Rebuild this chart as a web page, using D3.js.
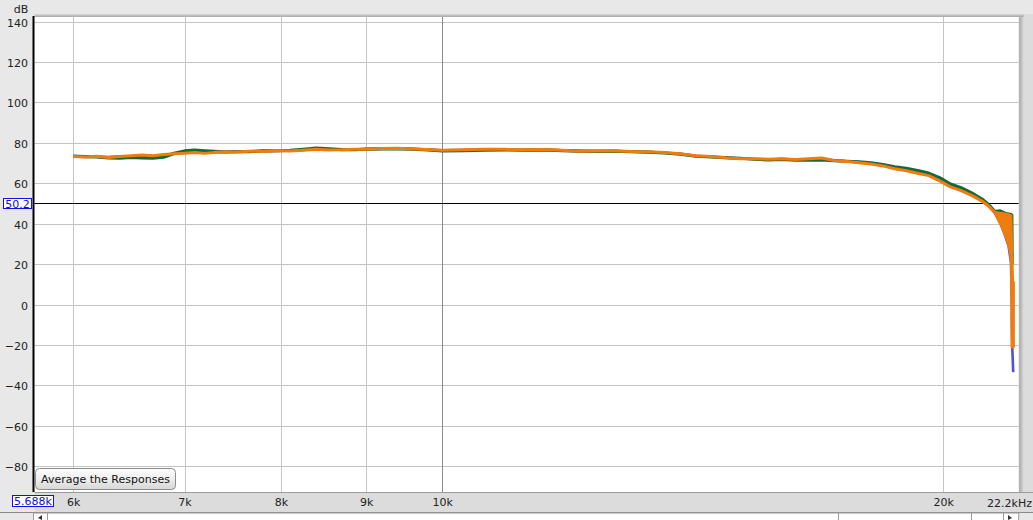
<!DOCTYPE html>
<html>
<head>
<meta charset="utf-8">
<script src="https://cdn.jsdelivr.net/npm/d3@7"></script>
<style>
  html, body { margin: 0; padding: 0; background: #e8e8e8; }
  svg { display: block; font-family: "DejaVu Sans", sans-serif; }
</style>
</head>
<body>
<svg id="chart" width="1033" height="520"></svg>
<script>
// ---------- data ----------
const yTicks = [140, 120, 100, 80, 60, 40, 20, 0, -20, -40, -60, -80];
const xTicks = [6000, 7000, 8000, 9000, 10000, 20000];
const xTickLabels = ["6k", "7k", "8k", "9k", "10k", "20k"];
const xStartLabel = "5.688k";
const xEndLabel = "22.2kHz";
const yUnitLabel = "dB";
const markerValue = 50.2;
const buttonLabel = "Average the Responses";

const freq = [6000, 6100, 6200, 6300, 6400, 6500, 6600, 6700, 6800, 6900,
  7000, 7100, 7200, 7300, 7400, 7500, 7650, 7800, 7950, 8100,
  8250, 8400, 8550, 8700, 8850, 9000, 9200, 9400, 9600, 9800,
  10000, 10300, 10600, 10900, 11200, 11500, 11800, 12100, 12400, 12700,
  13000, 13300, 13600, 13900, 14200, 14500, 14800, 15100, 15400, 15700,
  16000, 16300, 16600, 16900, 17200, 17500, 17800, 18100, 18400, 18700,
  19000, 19300, 19600, 19900, 20200, 20500, 20800, 21100, 21300, 21480,
  21640, 21790, 21890, 21963, 21990, 22000, 22033];

const orange = [73.3, 73.0, 73.4, 72.8, 73.2, 73.6, 74.0, 73.6, 74.2, 74.6,
  74.9, 75.2, 74.8, 75.3, 75.6, 75.4, 75.9, 75.7, 76.2, 76.0,
  76.4, 76.8, 76.5, 76.6, 76.9, 76.8, 77.2, 77.3, 77.0, 76.7,
  76.4, 76.6, 76.9, 76.8, 76.6, 76.7, 76.4, 75.9, 76.0, 76.0,
  75.7, 75.6, 75.2, 74.6, 73.6, 73.2, 72.6, 72.2, 72.1, 71.9,
  72.2, 71.8, 72.1, 72.5, 71.3, 70.8, 70.2, 69.5, 68.6, 67.2,
  66.2, 65.0, 63.8, 61.2, 58.2, 56.4, 54.0, 51.2, 48.6, 45.6,
  45.2, 44.8, 44.4, 44.0, 24.0, -21.0, -21.0];

const green = [73.5, 73.2, 73.0, 72.6, 72.4, 72.8, 72.6, 72.4, 72.9, 74.8,
  76.0, 76.4, 76.1, 75.8, 75.5, 75.6, 75.7, 76.0, 76.1, 76.3,
  76.8, 77.4, 77.1, 76.7, 76.6, 76.9, 77.0, 77.2, 76.9, 76.5,
  76.0, 76.2, 76.4, 76.5, 76.4, 76.5, 76.2, 75.9, 75.8, 75.9,
  75.6, 75.4, 75.0, 74.4, 73.4, 73.0, 72.7, 72.4, 71.9, 71.6,
  71.8, 71.5, 71.5, 71.6, 71.2, 70.9, 70.6, 70.1, 69.2, 68.2,
  67.4, 66.3, 65.0, 62.8, 59.6, 57.8, 55.2, 52.2, 49.4, 46.0,
  46.3, 45.2, 44.8, 44.5, 44.2, 20.0, 20.0];

const blue = [73.2, 73.3, 73.1, 73.0, 73.3, 73.4, 73.8, 73.3, 73.9, 74.7,
  75.3, 75.6, 75.2, 75.4, 75.5, 75.6, 75.8, 75.9, 76.0, 76.2,
  76.5, 77.0, 76.7, 76.6, 76.7, 76.9, 77.1, 77.1, 76.9, 76.6,
  76.3, 76.4, 76.7, 76.6, 76.5, 76.6, 76.3, 75.9, 75.9, 75.9,
  75.6, 75.5, 75.1, 74.5, 73.5, 73.1, 72.6, 72.3, 72.0, 71.8,
  72.0, 71.7, 71.9, 72.1, 71.3, 70.9, 70.4, 69.8, 68.8, 67.6,
  66.6, 65.5, 64.2, 61.8, 58.8, 56.9, 54.5, 51.6, 48.8, 45.2,
  40.5, 34.0, 29.0, 21.0, 0.0, -20.0, -33.5];

// spread (fast oscillation) of the orange trace near the top end
const tailFreq = [21480, 21560, 21640, 21720, 21790, 21850, 21890, 21930, 21960, 21985, 22010, 22040, 22060];
const tailHigh = [45.6, 45.4, 45.2, 45.0, 44.8, 44.6, 44.4, 44.2, 44.0, 24.0, 22.0, 11.0, 11.0];
const tailLow  = [45.0, 42.0, 39.4, 36.5, 33.6, 30.6, 28.6, 25.0, 20.5, -21.0, -21.0, -21.0, -21.0];

// ---------- layout ----------
const svg = d3.select("#chart");
const W = 1033, H = 520;
const plot = { left: 34.5, right: 1018.7, top: 17, bottom: 492 };

const x = d3.scaleLog().domain([5688, 22200]).range([plot.left, plot.right]);
const y = d3.scaleLinear().domain([-92.8, 142.3]).range([plot.bottom, plot.top]);

const defs = svg.append("defs");
const gBtn = defs.append("linearGradient").attr("id", "btnGrad").attr("x1", 0).attr("x2", 0).attr("y1", 0).attr("y2", 1);
gBtn.append("stop").attr("offset", "0%").attr("stop-color", "#fdfdfd");
gBtn.append("stop").attr("offset", "55%").attr("stop-color", "#ececec");
gBtn.append("stop").attr("offset", "100%").attr("stop-color", "#d6d6d6");
const gRight = defs.append("linearGradient").attr("id", "rightGrad").attr("x1", 0).attr("x2", 1).attr("y1", 0).attr("y2", 0);
gRight.append("stop").attr("offset", "0%").attr("stop-color", "#a8a8a8");
gRight.append("stop").attr("offset", "100%").attr("stop-color", "#d4d4d4");
const gTop = defs.append("linearGradient").attr("id", "topGrad").attr("x1", 0).attr("x2", 0).attr("y1", 0).attr("y2", 1);
gTop.append("stop").attr("offset", "0%").attr("stop-color", "#d8d8d8");
gTop.append("stop").attr("offset", "100%").attr("stop-color", "#a8a8a8");

svg.append("rect").attr("width", W).attr("height", H).attr("fill", "#e8e8e8");

// right shaded edge and top shaded edge
svg.append("rect").attr("x", plot.right).attr("y", plot.top - 3).attr("width", 5).attr("height", plot.bottom - plot.top + 3).attr("fill", "url(#rightGrad)");
svg.append("rect").attr("x", plot.right + 5).attr("y", plot.top - 3).attr("width", W - plot.right - 5).attr("height", plot.bottom - plot.top + 3).attr("fill", "#dcdcdc");
svg.append("rect").attr("x", plot.left).attr("y", plot.top - 3).attr("width", plot.right - plot.left + 5).attr("height", 3).attr("fill", "url(#topGrad)");

// plot area
svg.append("rect").attr("x", plot.left).attr("y", plot.top)
  .attr("width", plot.right - plot.left).attr("height", plot.bottom - plot.top)
  .attr("fill", "#ffffff");

// bottom axis strip
svg.append("rect").attr("x", plot.left).attr("y", plot.bottom).attr("width", W - plot.left).attr("height", 20).attr("fill", "#dcdcdc");
svg.append("line").attr("x1", plot.left).attr("x2", W).attr("y1", plot.bottom + 0.5).attr("y2", plot.bottom + 0.5).attr("stroke", "#9a9a9a");
svg.append("line").attr("x1", 0).attr("x2", W).attr("y1", 512.5).attr("y2", 512.5).attr("stroke", "#8a8a8a");

// scrollbar
svg.append("rect").attr("x", 33.5).attr("y", 513).attr("width", plot.right - 33.5).attr("height", 8).attr("fill", "#ffffff").attr("stroke", "#9a9a9a");
[47.5, 838.5, 971.5, 1003.5].forEach(d => {
  svg.append("line").attr("x1", d).attr("x2", d).attr("y1", 513).attr("y2", 520).attr("stroke", "#9a9a9a");
});
svg.append("path").attr("d", "M38,518 L42,515 L42,520 Z").attr("fill", "#333");
svg.append("path").attr("d", "M1012,518 L1008,515 L1008,520 Z").attr("fill", "#333");

// grid
const grid = svg.append("g");
grid.selectAll("line.h").data(yTicks).join("line")
  .attr("x1", plot.left).attr("x2", plot.right)
  .attr("y1", d => Math.round(y(d)) + 0.5).attr("y2", d => Math.round(y(d)) + 0.5)
  .attr("stroke", "#c4c4c4").attr("stroke-width", 1);
grid.selectAll("line.v").data(xTicks).join("line")
  .attr("x1", d => Math.round(x(d)) + 0.5).attr("x2", d => Math.round(x(d)) + 0.5)
  .attr("y1", plot.top).attr("y2", plot.bottom)
  .attr("stroke", d => d === 10000 ? "#8a8a8a" : "#c4c4c4").attr("stroke-width", 1);

// marker line
svg.append("line").attr("x1", plot.left).attr("x2", plot.right)
  .attr("y1", Math.round(y(markerValue)) + 0.5).attr("y2", Math.round(y(markerValue)) + 0.5)
  .attr("stroke", "#000").attr("stroke-width", 1);

// curves
const line = d3.line().x((d, i) => x(freq[i])).y(d => y(d));
const clip = defs.append("clipPath").attr("id", "plotClip");
clip.append("rect").attr("x", plot.left).attr("y", plot.top).attr("width", plot.right - plot.left).attr("height", plot.bottom - plot.top);
const curves = svg.append("g").attr("clip-path", "url(#plotClip)");

curves.append("path").datum(blue).attr("d", line).attr("fill", "none")
  .attr("stroke", "#5050d8").attr("stroke-width", 2.6).attr("stroke-linejoin", "round");
curves.append("path").datum(green).attr("d", line).attr("fill", "none")
  .attr("stroke", "#16673a").attr("stroke-width", 3.2).attr("stroke-linejoin", "round");
const area = d3.area().x((d, i) => x(tailFreq[i])).y0((d, i) => y(tailLow[i])).y1(d => y(d));
curves.append("path").datum(tailHigh).attr("d", area).attr("fill", "#ef7d0e").attr("stroke", "#ef7d0e").attr("stroke-width", 1.5);
curves.append("path").datum(orange).attr("d", line).attr("fill", "none")
  .attr("stroke", "#ef7d0e").attr("stroke-width", 3).attr("stroke-linejoin", "round");

// left black border
svg.append("line").attr("x1", 33.5).attr("x2", 33.5).attr("y1", plot.top - 1).attr("y2", plot.bottom).attr("stroke", "#000").attr("stroke-width", 2);

// y axis labels
const yAxis = d3.axisLeft(y).tickValues(yTicks).tickSize(0).tickPadding(0).tickFormat(d => d === 0 ? "0" : String(d).replace("-", "\u2212"));
const yg = svg.append("g").attr("transform", "translate(28,1)").call(yAxis);
yg.select(".domain").remove();
yg.selectAll("text").attr("font-size", 11).attr("fill", "#222").attr("font-family", "DejaVu Sans");

svg.append("text").attr("x", 21).attr("y", 13).attr("text-anchor", "middle")
  .attr("font-size", 11).attr("fill", "#222").text(yUnitLabel);

// x axis labels
const xAxis = d3.axisBottom(x).tickValues(xTicks).tickSize(0).tickPadding(0).tickFormat((d, i) => xTickLabels[i]);
const xg = svg.append("g").attr("transform", "translate(0,498)").call(xAxis);
xg.select(".domain").remove();
xg.selectAll("text").attr("font-size", 11).attr("fill", "#222").attr("font-family", "DejaVu Sans");

svg.append("text").attr("x", 1032).attr("y", 507).attr("text-anchor", "end")
  .attr("font-size", 11).attr("fill", "#222").text(xEndLabel);

// blue boxes
svg.append("rect").attr("x", 12.5).attr("y", 495.5).attr("width", 41).attr("height", 11).attr("fill", "#fff").attr("stroke", "#1010ee");
svg.append("text").attr("x", 33).attr("y", 505).attr("text-anchor", "middle")
  .attr("font-size", 11).attr("fill", "#1010cc").text(xStartLabel);

svg.append("rect").attr("x", 3.5).attr("y", Math.round(y(markerValue)) - 4.5).attr("width", 28).attr("height", 10).attr("fill", "#fff").attr("stroke", "#1010ee");
svg.append("text").attr("x", 17.5).attr("y", Math.round(y(markerValue)) + 4.5).attr("text-anchor", "middle")
  .attr("font-size", 11).attr("fill", "#1010cc").text(markerValue.toFixed(1));

// button
svg.append("rect").attr("x", 35.5).attr("y", 468.5).attr("width", 140).attr("height", 21).attr("rx", 4)
  .attr("fill", "url(#btnGrad)").attr("stroke", "#8c8c8c");
svg.append("text").attr("x", 105.5).attr("y", 483).attr("text-anchor", "middle")
  .attr("font-size", 11).attr("fill", "#111").text(buttonLabel);
</script>
</body>
</html>
